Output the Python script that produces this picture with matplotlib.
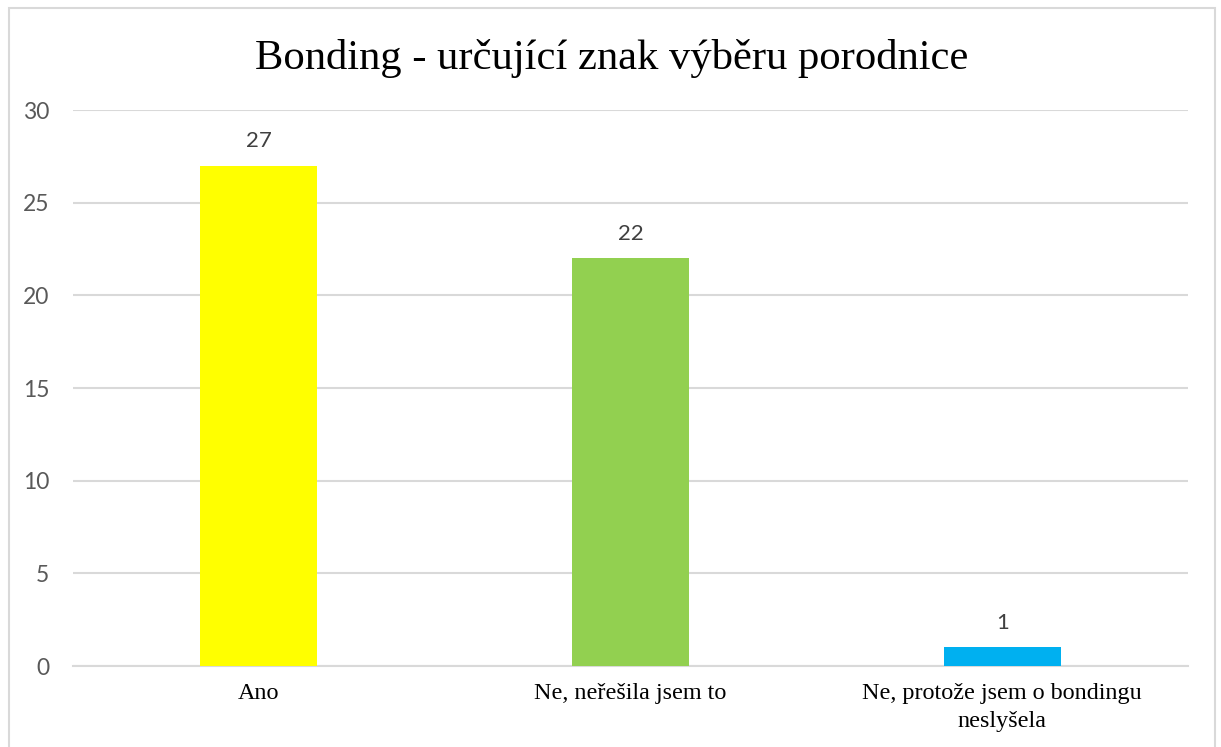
import matplotlib

matplotlib.use("Agg")

import matplotlib.pyplot as plt
from matplotlib.patches import Rectangle

categories = ["Ano", "Ne, neřešila jsem to", "Ne, protože jsem o bondingu\nneslyšela"]
counts = [27, 22, 1]
bar_colors = ["#FFFF00", "#92D050", "#00B0F0"]
y_ticks = [0, 5, 10, 15, 20, 25, 30]
title = "Bonding - určující znak výběru porodnice"

fig = plt.figure(figsize=(12.21, 7.47), dpi=100)
ax = fig.add_axes([0.0598, 0.1084, 0.9132, 0.7443])

x = list(range(len(categories)))
bars = ax.bar(x, counts, width=0.315, color=bar_colors, zorder=3)

for rect, val in zip(bars, counts):
    ax.annotate(str(val), (rect.get_x() + rect.get_width() / 2, val),
                xytext=(0, 10.5), textcoords="offset points", ha="center", va="bottom",
                fontsize=16, color="#404040", family="Lato")

ax.set_xlim(-0.5, len(categories) - 0.5)
ax.set_ylim(0, 30)
ax.set_yticks(y_ticks)
ax.set_xticks(x)
ax.set_xticklabels(categories, family="Liberation Serif", fontsize=17.4, color="#000000",
                   linespacing=1.4)
ax.tick_params(axis="x", length=0, pad=12.5)
ax.tick_params(axis="y", length=0, pad=17, labelsize=16.5, labelcolor="#595959")
for lbl in ax.get_yticklabels():
    lbl.set_family("Lato")

ax.grid(axis="y", color="#d9d9d9", linewidth=1.5, zorder=0)
for side in ["top", "right", "left"]:
    ax.spines[side].set_visible(False)
ax.spines["bottom"].set_color("#d9d9d9")
ax.spines["bottom"].set_linewidth(1.5)

fig.text(0.501, 0.922, title, ha="center", va="center", fontsize=30.7,
         family="Liberation Serif", color="#000000")

# light chart-area frame
fig.patches.append(Rectangle((9 / 1221, -0.05), 1206 / 1221, 1.05 - 8 / 747,
                             transform=fig.transFigure, fill=False,
                             edgecolor="#d9d9d9", linewidth=1.5))

fig.savefig("out.png", dpi=100)
